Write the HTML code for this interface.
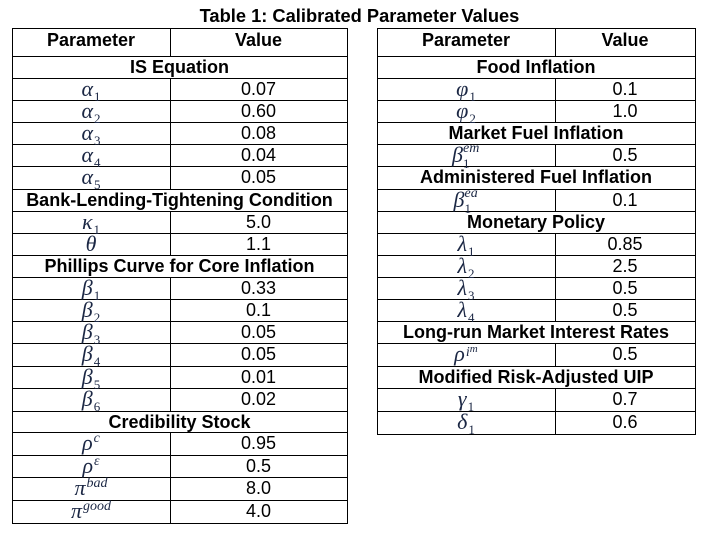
<!DOCTYPE html>
<html>
<head>
<meta charset="utf-8">
<style>
html,body{margin:0;padding:0;background:#fff;}
body{width:711px;height:540px;overflow:hidden;position:relative;font-family:"Liberation Sans",Arial,sans-serif;color:#000;}
.l{position:absolute;background:#000;}
.h{height:1px;}
.v{width:1px;}
.t{position:absolute;height:22px;line-height:22px;font-size:18px;text-align:center;white-space:nowrap;}
.b{font-weight:bold;}
.m{font-family:"Liberation Serif","DejaVu Serif",serif;font-style:italic;font-size:22px;color:#1b2744;}
.sub{font-size:13px;font-style:normal;position:relative;top:5px;margin-left:1px;}
.sup{font-size:14px;position:relative;top:-8px;margin-left:1px;}
.ss{display:inline-block;position:relative;height:0;}
.ss .a{position:absolute;left:0;top:-20px;font-size:14px;line-height:1;}
.ss .c{position:absolute;left:0;top:-5px;font-size:13px;line-height:1;font-style:normal;}
.L1{left:12px;width:158px;}
.L2{left:170px;width:177px;}
.LS{left:12px;width:335px;}
.R1{left:377px;width:178px;}
.R2{left:555px;width:140px;}
.RS{left:377px;width:318px;}
</style>
</head>
<body>
<div class="t b" style="left:0;width:719px;top:5px;font-size:18.3px;">Table 1: Calibrated Parameter Values</div>

<!-- LEFT TABLE LINES -->
<div class="l h" style="left:12px;width:336px;top:28px"></div>
<div class="l h" style="left:12px;width:336px;top:56px"></div>
<div class="l h" style="left:12px;width:336px;top:78px"></div>
<div class="l h" style="left:12px;width:336px;top:100px"></div>
<div class="l h" style="left:12px;width:336px;top:122px"></div>
<div class="l h" style="left:12px;width:336px;top:144px"></div>
<div class="l h" style="left:12px;width:336px;top:166px"></div>
<div class="l h" style="left:12px;width:336px;top:189px"></div>
<div class="l h" style="left:12px;width:336px;top:211px"></div>
<div class="l h" style="left:12px;width:336px;top:233px"></div>
<div class="l h" style="left:12px;width:336px;top:255px"></div>
<div class="l h" style="left:12px;width:336px;top:277px"></div>
<div class="l h" style="left:12px;width:336px;top:299px"></div>
<div class="l h" style="left:12px;width:336px;top:321px"></div>
<div class="l h" style="left:12px;width:336px;top:343px"></div>
<div class="l h" style="left:12px;width:336px;top:366px"></div>
<div class="l h" style="left:12px;width:336px;top:388px"></div>
<div class="l h" style="left:12px;width:336px;top:411px"></div>
<div class="l h" style="left:12px;width:336px;top:432px"></div>
<div class="l h" style="left:12px;width:336px;top:455px"></div>
<div class="l h" style="left:12px;width:336px;top:477px"></div>
<div class="l h" style="left:12px;width:336px;top:500px"></div>
<div class="l h" style="left:12px;width:336px;top:523px"></div>
<div class="l v" style="left:12px;top:28px;height:496px"></div>
<div class="l v" style="left:347px;top:28px;height:496px"></div>
<div class="l v" style="left:170px;top:28px;height:29px"></div>
<div class="l v" style="left:170px;top:78px;height:112px"></div>
<div class="l v" style="left:170px;top:211px;height:45px"></div>
<div class="l v" style="left:170px;top:277px;height:135px"></div>
<div class="l v" style="left:170px;top:432px;height:92px"></div>

<!-- RIGHT TABLE LINES -->
<div class="l h" style="left:377px;width:319px;top:28px"></div>
<div class="l h" style="left:377px;width:319px;top:56px"></div>
<div class="l h" style="left:377px;width:319px;top:78px"></div>
<div class="l h" style="left:377px;width:319px;top:100px"></div>
<div class="l h" style="left:377px;width:319px;top:122px"></div>
<div class="l h" style="left:377px;width:319px;top:144px"></div>
<div class="l h" style="left:377px;width:319px;top:166px"></div>
<div class="l h" style="left:377px;width:319px;top:189px"></div>
<div class="l h" style="left:377px;width:319px;top:211px"></div>
<div class="l h" style="left:377px;width:319px;top:233px"></div>
<div class="l h" style="left:377px;width:319px;top:255px"></div>
<div class="l h" style="left:377px;width:319px;top:277px"></div>
<div class="l h" style="left:377px;width:319px;top:299px"></div>
<div class="l h" style="left:377px;width:319px;top:321px"></div>
<div class="l h" style="left:377px;width:319px;top:343px"></div>
<div class="l h" style="left:377px;width:319px;top:366px"></div>
<div class="l h" style="left:377px;width:319px;top:388px"></div>
<div class="l h" style="left:377px;width:319px;top:411px"></div>
<div class="l h" style="left:377px;width:319px;top:434px"></div>
<div class="l v" style="left:377px;top:28px;height:407px"></div>
<div class="l v" style="left:695px;top:28px;height:407px"></div>
<div class="l v" style="left:555px;top:28px;height:29px"></div>
<div class="l v" style="left:555px;top:78px;height:45px"></div>
<div class="l v" style="left:555px;top:144px;height:23px"></div>
<div class="l v" style="left:555px;top:189px;height:23px"></div>
<div class="l v" style="left:555px;top:233px;height:89px"></div>
<div class="l v" style="left:555px;top:343px;height:24px"></div>
<div class="l v" style="left:555px;top:388px;height:47px"></div>

<!-- LEFT TABLE TEXT -->
<div class="t b L1" style="top:29px">Parameter</div>
<div class="t b L2" style="top:29px">Value</div>
<div class="t b LS" style="top:56px">IS Equation</div>
<div class="t L1" style="top:78px"><span class="m">α<span class="sub">1</span></span></div>
<div class="t L2" style="top:78px">0.07</div>
<div class="t L1" style="top:100px"><span class="m">α<span class="sub">2</span></span></div>
<div class="t L2" style="top:100px">0.60</div>
<div class="t L1" style="top:122px"><span class="m">α<span class="sub">3</span></span></div>
<div class="t L2" style="top:122px">0.08</div>
<div class="t L1" style="top:144px"><span class="m">α<span class="sub">4</span></span></div>
<div class="t L2" style="top:144px">0.04</div>
<div class="t L1" style="top:166px"><span class="m">α<span class="sub">5</span></span></div>
<div class="t L2" style="top:166px">0.05</div>
<div class="t b LS" style="top:189px">Bank-Lending-Tightening Condition</div>
<div class="t L1" style="top:211px"><span class="m">κ<span class="sub">1</span></span></div>
<div class="t L2" style="top:211px">5.0</div>
<div class="t L1" style="top:233px"><span class="m">θ</span></div>
<div class="t L2" style="top:233px">1.1</div>
<div class="t b LS" style="top:255px">Phillips Curve for Core Inflation</div>
<div class="t L1" style="top:277px"><span class="m">β<span class="sub">1</span></span></div>
<div class="t L2" style="top:277px">0.33</div>
<div class="t L1" style="top:299px"><span class="m">β<span class="sub">2</span></span></div>
<div class="t L2" style="top:299px">0.1</div>
<div class="t L1" style="top:321px"><span class="m">β<span class="sub">3</span></span></div>
<div class="t L2" style="top:321px">0.05</div>
<div class="t L1" style="top:343px"><span class="m">β<span class="sub">4</span></span></div>
<div class="t L2" style="top:343px">0.05</div>
<div class="t L1" style="top:366px"><span class="m">β<span class="sub">5</span></span></div>
<div class="t L2" style="top:366px">0.01</div>
<div class="t L1" style="top:388px"><span class="m">β<span class="sub">6</span></span></div>
<div class="t L2" style="top:388px">0.02</div>
<div class="t b LS" style="top:411px">Credibility Stock</div>
<div class="t L1" style="top:432px"><span class="m">ρ<span class="sup">c</span></span></div>
<div class="t L2" style="top:432px">0.95</div>
<div class="t L1" style="top:455px"><span class="m">ρ<span class="sup">ε</span></span></div>
<div class="t L2" style="top:455px">0.5</div>
<div class="t L1" style="top:477px"><span class="m">π<span class="sup">bad</span></span></div>
<div class="t L2" style="top:477px">8.0</div>
<div class="t L1" style="top:500px"><span class="m">π<span class="sup">good</span></span></div>
<div class="t L2" style="top:500px">4.0</div>

<!-- RIGHT TABLE TEXT -->
<div class="t b R1" style="top:29px">Parameter</div>
<div class="t b R2" style="top:29px">Value</div>
<div class="t b RS" style="top:56px">Food Inflation</div>
<div class="t R1" style="top:78px"><span class="m">φ<span class="sub">1</span></span></div>
<div class="t R2" style="top:78px">0.1</div>
<div class="t R1" style="top:100px"><span class="m">φ<span class="sub">2</span></span></div>
<div class="t R2" style="top:100px">1.0</div>
<div class="t b RS" style="top:122px">Market Fuel Inflation</div>
<div class="t R1" style="top:144px"><span class="m">β<span class="ss" style="width:17px"><span class="a">em</span><span class="c">1</span></span></span></div>
<div class="t R2" style="top:144px">0.5</div>
<div class="t b RS" style="top:166px">Administered Fuel Inflation</div>
<div class="t R1" style="top:189px"><span class="m">β<span class="ss" style="width:14px"><span class="a">ea</span><span class="c">1</span></span></span></div>
<div class="t R2" style="top:189px">0.1</div>
<div class="t b RS" style="top:211px">Monetary Policy</div>
<div class="t R1" style="top:233px"><span class="m">λ<span class="sub">1</span></span></div>
<div class="t R2" style="top:233px">0.85</div>
<div class="t R1" style="top:255px"><span class="m">λ<span class="sub">2</span></span></div>
<div class="t R2" style="top:255px">2.5</div>
<div class="t R1" style="top:277px"><span class="m">λ<span class="sub">3</span></span></div>
<div class="t R2" style="top:277px">0.5</div>
<div class="t R1" style="top:299px"><span class="m">λ<span class="sub">4</span></span></div>
<div class="t R2" style="top:299px">0.5</div>
<div class="t b RS" style="top:321px">Long-run Market Interest Rates</div>
<div class="t R1" style="top:343px"><span class="m">ρ<span class="sup" style="top:-5px">i<span style="font-size:11px;position:relative;top:-4px">m</span></span></span></div>
<div class="t R2" style="top:343px">0.5</div>
<div class="t b RS" style="top:366px">Modified Risk-Adjusted UIP</div>
<div class="t R1" style="top:388px"><span class="m">γ<span class="sub">1</span></span></div>
<div class="t R2" style="top:388px">0.7</div>
<div class="t R1" style="top:411px"><span class="m">δ<span class="sub">1</span></span></div>
<div class="t R2" style="top:411px">0.6</div>
</body>
</html>
